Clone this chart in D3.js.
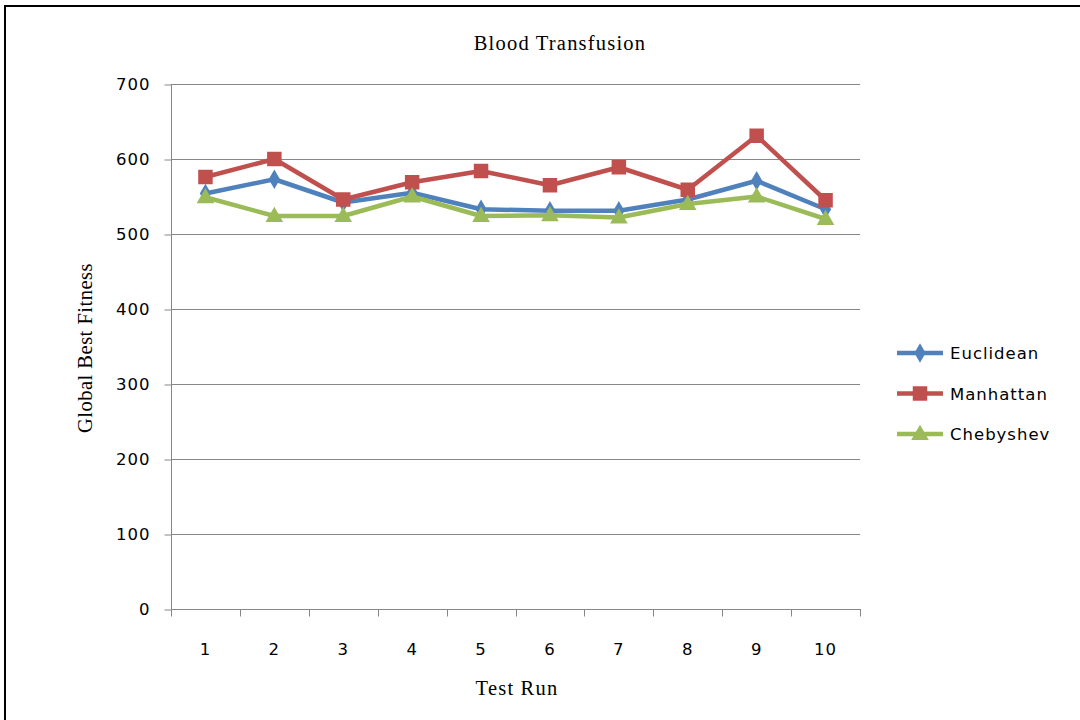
<!DOCTYPE html>
<html>
<head>
<meta charset="utf-8">
<script src="https://cdn.jsdelivr.net/npm/d3@7"></script>
<style>
  html, body { margin: 0; padding: 0; background: #fff; }
  svg { display: block; }
</style>
</head>
<body>
<svg id="chart" width="1080" height="720"></svg>
<script>
// Global best fitness per test run for three distance metrics
const runs = ["1", "2", "3", "4", "5", "6", "7", "8", "9", "10"];
const euclidean = [554, 573, 542, 555, 533, 531, 531, 546, 571, 533];
const manhattan = [576, 600, 546, 569, 584, 565, 589, 559, 631, 545];
const chebyshev = [549, 524, 524, 550, 524, 525, 522, 540, 550, 520];
const yTicks = [0, 100, 200, 300, 400, 500, 600, 700];
const seriesNames = ["Euclidean", "Manhattan", "Chebyshev"];

const series = [
  { name: seriesNames[0], values: euclidean, color: "#4F81BD", symbol: "diamond" },
  { name: seriesNames[1], values: manhattan, color: "#C0504D", symbol: "square" },
  { name: seriesNames[2], values: chebyshev, color: "#9BBB59", symbol: "triangle" }
];

const sansFont = "'DejaVu Sans', Verdana, sans-serif";
const serifFont = "'Liberation Serif', 'Times New Roman', serif";

const svg = d3.select("#chart");
const plot = { left: 171, right: 860, top: 84, bottom: 609 };

// Outer frame (left and top edges)
svg.append("path")
  .attr("d", "M5,720 V6 H1080")
  .attr("fill", "none")
  .attr("stroke", "#000")
  .attr("stroke-width", 2);

const x = d3.scaleBand().domain(runs).range([plot.left, plot.right]);
const y = d3.scaleLinear().domain([0, 700]).range([plot.bottom, plot.top]);

const gridColor = "#878787";

// Horizontal gridlines
svg.append("g")
  .selectAll("line")
  .data(yTicks.filter(d => d > 0))
  .join("line")
  .attr("x1", plot.left).attr("x2", plot.right)
  .attr("y1", d => y(d) + 0.5).attr("y2", d => y(d) + 0.5)
  .attr("stroke", gridColor).attr("stroke-width", 1);

// Y axis
const yAxis = svg.append("g")
  .attr("transform", `translate(${plot.left + 0.5},0.5)`)
  .call(d3.axisLeft(y).tickValues(yTicks).tickSize(7).tickPadding(14).tickFormat(d3.format("d")));
yAxis.select(".domain").attr("stroke", gridColor).attr("d", `M0,${plot.top}V${plot.bottom}`);
yAxis.selectAll(".tick line").attr("stroke", gridColor);
yAxis.selectAll(".tick text")
  .attr("fill", "#000")
  .style("font-family", sansFont)
  .style("font-size", "16.5px")
  .style("letter-spacing", "1px");

// X axis: tick marks at category boundaries, labels at category centres
const xg = svg.append("g").attr("transform", `translate(0,${plot.bottom + 0.5})`);
xg.append("line")
  .attr("x1", plot.left).attr("x2", plot.right + 1)
  .attr("stroke", gridColor);
const bounds = runs.map(r => x(r)).concat([x(runs[runs.length - 1]) + x.bandwidth()]);
xg.selectAll("line.tick")
  .data(bounds)
  .join("line")
  .attr("class", "tick")
  .attr("x1", d => Math.round(d) + 0.5).attr("x2", d => Math.round(d) + 0.5)
  .attr("y1", 0).attr("y2", 7)
  .attr("stroke", gridColor);
xg.selectAll("text")
  .data(runs)
  .join("text")
  .attr("x", d => x(d) + x.bandwidth() / 2)
  .attr("y", 45)
  .attr("text-anchor", "middle")
  .style("font-family", sansFont)
  .style("font-size", "16.5px")
  .style("letter-spacing", "1px")
  .text(d => d);

// Titles
svg.append("text")
  .attr("x", 560).attr("y", 50)
  .attr("text-anchor", "middle")
  .style("font-family", serifFont)
  .style("font-size", "20.5px")
  .style("letter-spacing", "1.2px")
  .text("Blood Transfusion");

svg.append("text")
  .attr("x", 517).attr("y", 695)
  .attr("text-anchor", "middle")
  .style("font-family", serifFont)
  .style("font-size", "20.5px")
  .style("letter-spacing", "1.2px")
  .text("Test Run");

svg.append("text")
  .attr("transform", "translate(92,348) rotate(-90)")
  .attr("text-anchor", "middle")
  .style("font-family", serifFont)
  .style("font-size", "20.5px")
  .style("letter-spacing", "0.5px")
  .text("Global Best Fitness");

// Marker shapes
const symbolType = { diamond: d3.symbolDiamond, square: d3.symbolSquare, triangle: d3.symbolTriangle };
const symbolSize = { diamond: 110, square: 210, triangle: 135 };
const symbolPath = s => d3.symbol().type(symbolType[s]).size(symbolSize[s])();

const line = d3.line()
  .x((d, i) => x(runs[i]) + x.bandwidth() / 2)
  .y(d => y(d));

series.forEach(s => {
  const g = svg.append("g");
  g.append("path")
    .attr("d", line(s.values))
    .attr("fill", "none")
    .attr("stroke", s.color)
    .attr("stroke-width", 4.5)
    .attr("stroke-linejoin", "round");
  g.selectAll("path.pt")
    .data(s.values)
    .join("path")
    .attr("class", "pt")
    .attr("transform", (d, i) => `translate(${x(runs[i]) + x.bandwidth() / 2},${y(d) + (s.symbol === "triangle" ? 1 : 0)})`)
    .attr("d", symbolPath(s.symbol))
    .attr("fill", s.color);
});

// Legend
const legend = svg.append("g");
series.forEach((s, i) => {
  const ly = 353 + i * 40.5;
  legend.append("line")
    .attr("x1", 897).attr("x2", 943)
    .attr("y1", ly).attr("y2", ly)
    .attr("stroke", s.color).attr("stroke-width", 4.5);
  legend.append("path")
    .attr("transform", `translate(920,${ly + (s.symbol === "triangle" ? 1 : 0)})`)
    .attr("d", symbolPath(s.symbol))
    .attr("fill", s.color);
  legend.append("text")
    .attr("x", 950).attr("y", ly + 6)
    .style("font-family", sansFont)
    .style("font-size", "16.5px")
    .style("letter-spacing", "1px")
    .text(s.name);
});
</script>
</body>
</html>
